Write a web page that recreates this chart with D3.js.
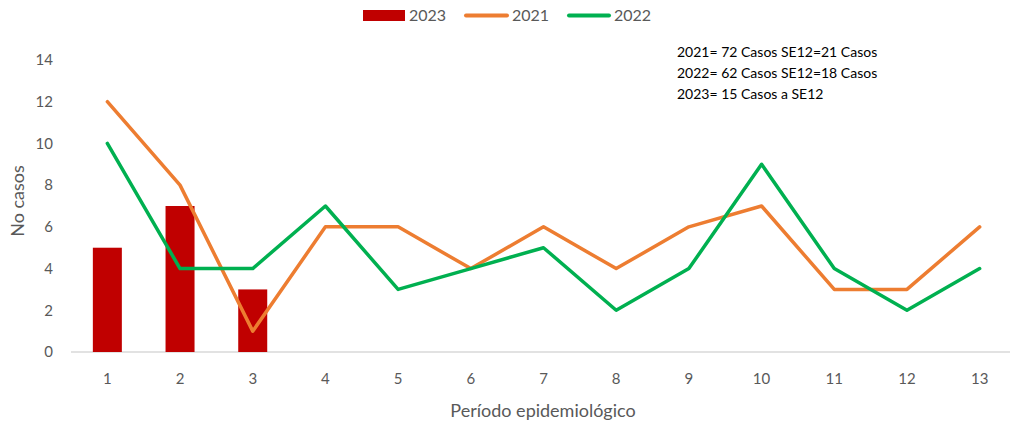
<!DOCTYPE html>
<html><head><meta charset="utf-8">
<script src="https://cdn.jsdelivr.net/npm/d3@7"></script>
<style>body{margin:0;background:#fff}svg{display:block;font-family:Lato,"Open Sans",sans-serif}</style>
</head><body><svg id="c" width="1010" height="423"></svg>
<script>
const periods = ["1","2","3","4","5","6","7","8","9","10","11","12","13"];
const cases2021 = [12,8,1,6,6,4,6,4,6,7,3,3,6];
const cases2022 = [10,4,4,7,3,4,5,2,4,9,4,2,4];
const cases2023 = [5,7,3];
const yTicks = [0,2,4,6,8,10,12,14];
const notes = ["2021= 72 Casos SE12=21 Casos","2022= 62 Casos SE12=18 Casos","2023= 15 Casos a SE12"];

const svg = d3.select("#c");
const x = d3.scaleBand().domain(periods).range([71, 1016]);
const y = d3.scaleLinear().domain([0,14]).range([352, 60]);
const gray = "#595959";

// y tick labels
svg.append("g").selectAll("text").data(yTicks).join("text")
  .attr("x", 53).attr("y", d => y(d)).attr("dy","0.35em")
  .attr("text-anchor","end").attr("fill",gray).attr("font-size",15).text(d=>d);

// baseline
svg.append("line").attr("x1",71).attr("x2",1010).attr("y1",y(0)).attr("y2",y(0))
  .attr("stroke","#d9d9d9").attr("stroke-width",1.5);

// x labels
svg.append("g").selectAll("text").data(periods).join("text")
  .attr("x", d => x(d)+x.bandwidth()/2).attr("y", 384)
  .attr("text-anchor","middle").attr("fill",gray).attr("font-size",15).text(d=>d);

// bars
const bw = 29;
svg.append("g").selectAll("rect").data(cases2023).join("rect")
  .attr("x",(d,i)=>x(periods[i])+x.bandwidth()/2-bw/2)
  .attr("width",bw).attr("y",d=>y(d)).attr("height",d=>y(0)-y(d))
  .attr("fill","#C00000");

const line = d3.line().x((d,i)=>x(periods[i])+x.bandwidth()/2).y(d=>y(d));
svg.append("path").datum(cases2021).attr("d",line).attr("fill","none")
  .attr("stroke","#ED7D31").attr("stroke-width",3.5).attr("stroke-linejoin","round").attr("stroke-linecap","round");
svg.append("path").datum(cases2022).attr("d",line).attr("fill","none")
  .attr("stroke","#00B050").attr("stroke-width",3.5).attr("stroke-linejoin","round").attr("stroke-linecap","round");

// axis titles
svg.append("text").attr("transform","translate(24,201) rotate(-90)")
  .attr("text-anchor","middle").attr("fill",gray).attr("font-size",18).text("No casos");
svg.append("text").attr("x",543).attr("y",417).attr("text-anchor","middle")
  .attr("fill",gray).attr("font-size",18).text("Período epidemiológico");

// legend
const lg = svg.append("g");
lg.append("rect").attr("x",363).attr("y",10).attr("width",42).attr("height",11).attr("fill","#C00000");
lg.append("text").attr("x",409).attr("y",21).attr("fill",gray).attr("font-size",16).text("2023");
lg.append("line").attr("x1",466).attr("x2",507).attr("y1",15.5).attr("y2",15.5).attr("stroke","#ED7D31").attr("stroke-width",4).attr("stroke-linecap","round");
lg.append("text").attr("x",512).attr("y",21).attr("fill",gray).attr("font-size",16).text("2021");
lg.append("line").attr("x1",569).attr("x2",609).attr("y1",15.5).attr("y2",15.5).attr("stroke","#00B050").attr("stroke-width",4).attr("stroke-linecap","round");
lg.append("text").attr("x",614).attr("y",21).attr("fill",gray).attr("font-size",16).text("2022");

// notes
svg.append("g").selectAll("text").data(notes).join("text")
  .attr("x",677).attr("y",(d,i)=>57+i*21).attr("fill","#000").attr("font-size",14).text(d=>d);
</script></body></html>
